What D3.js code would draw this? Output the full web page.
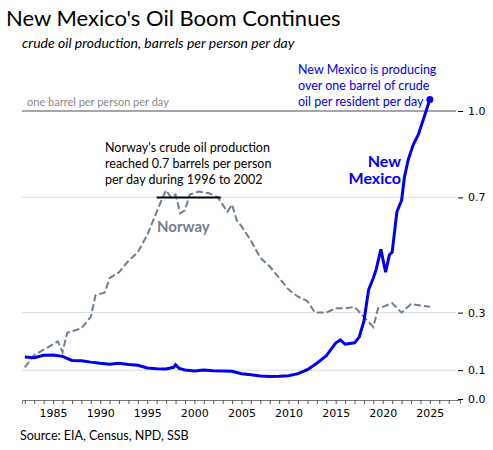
<!DOCTYPE html>
<html><head><meta charset="utf-8">
<script src="https://cdn.jsdelivr.net/npm/d3@7"></script>
<style>body{margin:0;background:#fff;font-family:Lato,sans-serif}</style>
</head><body><svg id="c" width="493" height="450"></svg>
<script>
const yTicks=[0,0.1,0.3,0.7,1.0];
const xTicks=[1985,1990,1995,2000,2005,2010,2015,2020,2025];
const nmYears=[1982,1983,1984,1985,1986,1987,1988,1989,1990,1991,1992,1993,1994,1995,1996,1997,1997.8,1998,1998.4,1999,2000,2001,2002,2003,2004,2005,2006,2007,2008,2009,2010,2011,2012,2013,2014,2015,2015.5,2016,2017,2017.5,2018,2018.5,2019,2019.3,2019.8,2020.3,2020.7,2021,2021.5,2022,2022.3,2022.7,2023.2,2023.8,2024.3,2025];
const nmVals=[0.146,0.143,0.152,0.153,0.148,0.134,0.133,0.128,0.124,0.121,0.124,0.120,0.117,0.108,0.105,0.104,0.110,0.119,0.106,0.101,0.097,0.101,0.098,0.097,0.096,0.088,0.084,0.080,0.078,0.079,0.081,0.088,0.102,0.124,0.150,0.194,0.205,0.190,0.195,0.215,0.27,0.38,0.42,0.45,0.52,0.44,0.50,0.51,0.65,0.69,0.77,0.83,0.88,0.92,0.97,1.04];
const noYears=[1982,1983,1984.5,1985.5,1986,1986.5,1988,1989,1989.5,1990.5,1991,1992,1993,1994,1995,1995.5,1996.5,1997,1997.5,1998,1998.5,1999,1999.5,2000.5,2001.5,2002.5,2003,2003.5,2004,2004.5,2005,2006,2007,2008,2009,2010,2011,2012,2012.8,2014,2015,2016,2017,2018,2019,2019.5,2020,2021,2022,2022.5,2023,2024,2025];
const noVals=[0.11,0.153,0.18,0.2,0.163,0.23,0.245,0.285,0.36,0.37,0.42,0.44,0.48,0.51,0.57,0.61,0.69,0.725,0.70,0.71,0.645,0.655,0.71,0.72,0.715,0.70,0.675,0.65,0.675,0.62,0.60,0.55,0.49,0.46,0.42,0.38,0.355,0.34,0.30,0.30,0.315,0.315,0.32,0.285,0.25,0.315,0.32,0.333,0.30,0.315,0.33,0.325,0.32];
const nm=nmYears.map((y,i)=>[y,nmVals[i]]), no=noYears.map((y,i)=>[y,noVals[i]]);
const svg=d3.select("#c");
const x=d3.scaleLinear().domain([1981.7,2028.2]).range([22,460]);
const y=d3.scaleLinear().domain([0,1]).range([399,111]);
svg.append("g").selectAll("line").data(yTicks.filter(d=>d>0)).join("line")
 .attr("x1",22).attr("x2",456).attr("y1",y).attr("y2",y)
 .attr("stroke",d=>d===1?"#888":"#ddd").attr("stroke-width",d=>d===1?1.3:1);
const ya=svg.append("g").attr("transform","translate(458,0)").call(d3.axisRight(y).tickValues(yTicks).tickFormat(d3.format(".1f")).tickSize(5).tickPadding(5));
ya.select(".domain").remove();ya.selectAll("text").attr("font-family","DejaVu Sans").attr("font-size",11);
const xa=svg.append("g").attr("transform","translate(0,400)").call(d3.axisBottom(x).tickValues(d3.range(1982,2028)).tickSize(4).tickFormat(d=>xTicks.includes(d)?d:""));
xa.select(".domain").attr("stroke","#777");xa.selectAll("line").attr("stroke","#555");
xa.selectAll("text").attr("font-family","DejaVu Sans").attr("font-size",11).attr("dy","0.9em");
const line=d3.line().x(d=>x(d[0])).y(d=>y(d[1]));
svg.append("path").datum(no).attr("d",line).attr("fill","none").attr("stroke","#6f7f91").attr("stroke-width",2).attr("stroke-dasharray","7,3");
svg.append("line").attr("x1",x(1996)).attr("x2",x(2002.8)).attr("y1",y(0.7)).attr("y2",y(0.7)).attr("stroke","#000").attr("stroke-width",2);
svg.append("path").datum(nm).attr("d",line).attr("fill","none").attr("stroke","#0000ee").attr("stroke-width",3);
svg.append("circle").attr("cx",x(2025)).attr("cy",y(1.04)).attr("r",3.5).attr("fill","#0000ee");
const t=(tx,ty,s,o)=>{const e=svg.append("text").attr("x",tx).attr("y",ty).text(s);for(const k in o)e.attr(k,o[k]);return e;};
t(6,26,"New Mexico's Oil Boom Continues",{"font-size":22});
t(22,48,"crude oil production, barrels per person per day",{"font-size":14,"font-style":"italic"});
t(27,106,"one barrel per person per day",{"font-size":11,fill:"#888"});
["New Mexico is producing","over one barrel of crude","oil per resident per day"].forEach((s,i)=>t(298,74+i*16,s,{"font-size":12.5,fill:"#0000ee"}));
["Norway's crude oil production","reached 0.7 barrels per person","per day during 1996 to 2002"].forEach((s,i)=>t(105,152+i*16,s,{"font-size":12.5}));
t(401,167,"New",{"font-size":16,"font-weight":"bold",fill:"#0000ee","text-anchor":"end"});
t(401,184,"Mexico",{"font-size":16,"font-weight":"bold",fill:"#0000ee","text-anchor":"end"});
t(157,232,"Norway",{"font-size":15,"font-weight":"bold",fill:"#6f7f91"});
t(20,440,"Source: EIA, Census, NPD, SSB",{"font-size":12.5});
</script></body></html>
